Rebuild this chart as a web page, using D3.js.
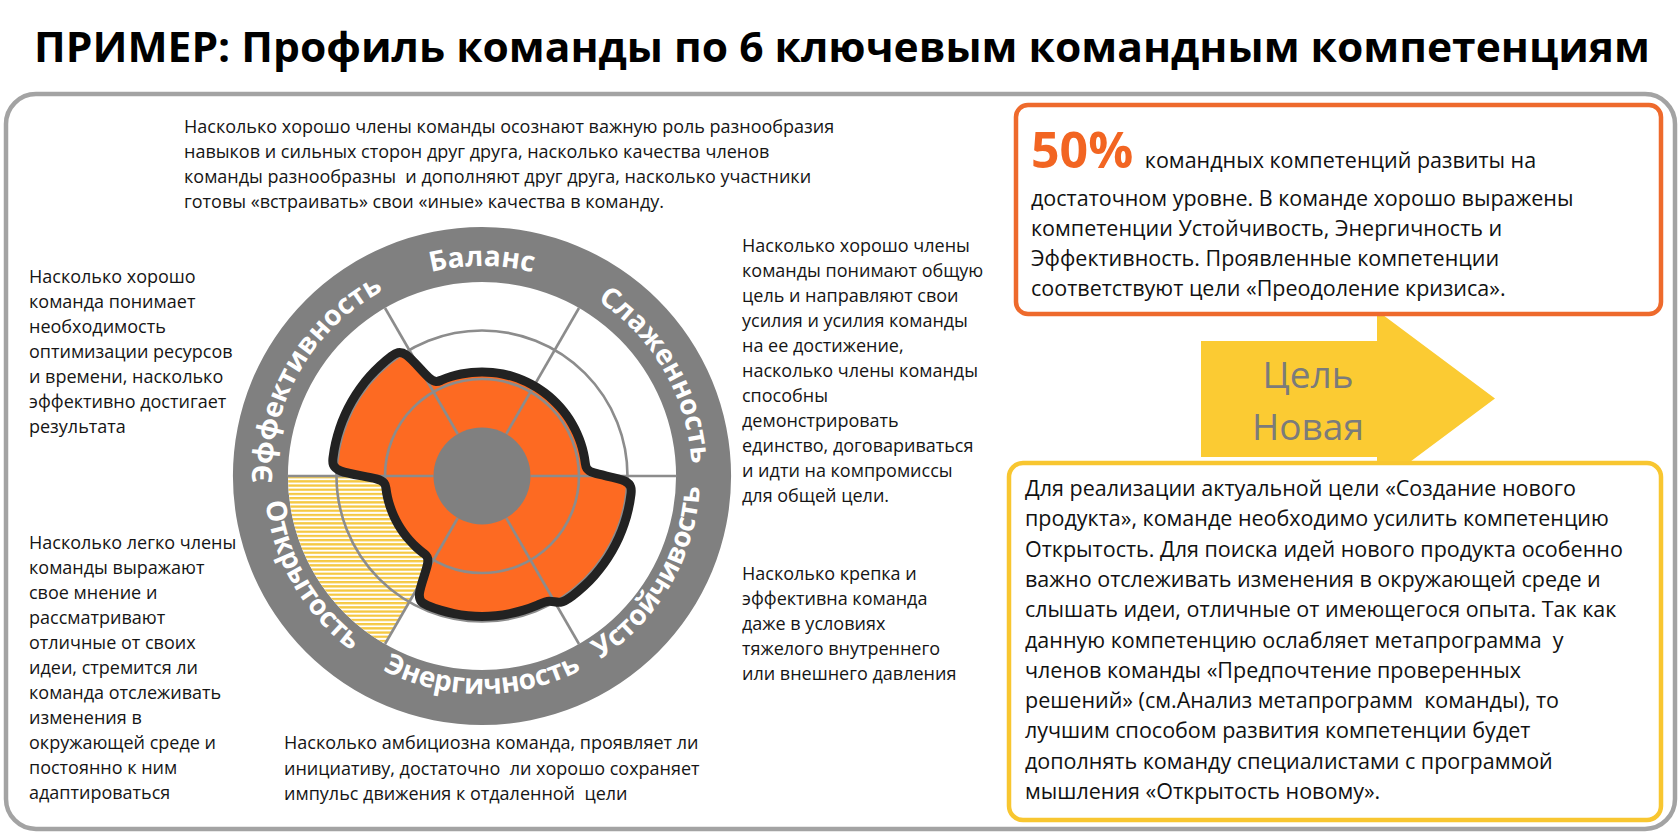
<!DOCTYPE html>
<html><head><meta charset="utf-8">
<script src="https://cdn.jsdelivr.net/npm/d3@7"></script>
<style>body{margin:0;background:#fff;} svg{display:block;}</style>
</head><body><svg id="c" width="1680" height="834"></svg>
<script>
// ---------------- DATA ----------------
const titleText = "ПРИМЕР: Профиль команды по 6 ключевым командным компетенциям";
const competencies = ["Баланс", "Слаженность", "Устойчивость", "Энергичность", "Открытость", "Эффективность"];
const levels = [2.15, 2.15, 3.1, 2.9, 2.0, 3.1];          // team profile (scale 0..4)
const targetLevels = [null, null, null, null, 4, null];   // competence to strengthen
const gridLevels = [2, 3];
const coreLevel = 1;
const maxLevel = 4;

const descTop = ["Насколько хорошо члены команды осознают важную роль разнообразия",
  "навыков и сильных сторон друг друга, насколько качества членов",
  "команды разнообразны  и дополняют друг друга, насколько участники",
  "готовы «встраивать» свои «иные» качества в команду."];
const descLeftTop = ["Насколько хорошо", "команда понимает", "необходимость", "оптимизации ресурсов",
  "и времени, насколько", "эффективно достигает", "результата"];
const descLeftBottom = ["Насколько легко члены", "команды выражают", "свое мнение и", "рассматривают",
  "отличные от своих", "идеи, стремится ли", "команда отслеживать", "изменения в",
  "окружающей среде и", "постоянно к ним", "адаптироваться"];
const descRightTop = ["Насколько хорошо члены", "команды понимают общую", "цель и направляют свои",
  "усилия и усилия команды", "на ее достижение,", "насколько члены команды", "способны",
  "демонстрировать", "единство, договариваться", "и идти на компромиссы", "для общей цели."];
const descRightBottom = ["Насколько крепка и", "эффективна команда", "даже в условиях",
  "тяжелого внутреннего", "или внешнего давления"];
const descBottom = ["Насколько амбициозна команда, проявляет ли",
  "инициативу, достаточно  ли хорошо сохраняет",
  "импульс движения к отдаленной  цели"];

const summaryPct = "50%";
const summaryLines = [" командных компетенций развиты на",
  "достаточном уровне. В команде хорошо выражены",
  "компетенции Устойчивость, Энергичность и",
  "Эффективность. Проявленные компетенции",
  "соответствуют цели «Преодоление кризиса»."];
const goalLines = ["Цель", "Новая"];
const adviceLines = ["Для реализации актуальной цели «Создание нового",
  "продукта», команде необходимо усилить компетенцию",
  "Открытость. Для поиска идей нового продукта особенно",
  "важно отслеживать изменения в окружающей среде и",
  "слышать идеи, отличные от имеющегося опыта. Так как",
  "данную компетенцию ослабляет метапрограмма  у",
  "членов команды «Предпочтение проверенных",
  "решений» (см.Анализ метапрограмм  команды), то",
  "лучшим способом развития компетенции будет",
  "дополнять команду специалистами с программой",
  "мышления «Открытость новому»."];

// ---------------- DRAW ----------------
const svg = d3.select("#c");
const FONT = "'Open Sans', 'Noto Sans', sans-serif";
const defs = svg.append("defs");
const pat = defs.append("pattern").attr("id", "hatch").attr("patternUnits", "userSpaceOnUse")
  .attr("width", 8).attr("height", 4.2);
pat.append("rect").attr("width", 8).attr("height", 4.2).attr("fill", "#fff");
pat.append("rect").attr("width", 8).attr("height", 2.3).attr("fill", "#F5C842");

// title
svg.append("text").attr("x", 34).attr("y", 62).attr("font-family", FONT).attr("font-weight", 700)
  .attr("font-size", 42).attr("fill", "#000").attr("textLength", 1616)
  .attr("lengthAdjust", "spacingAndGlyphs").text(titleText);

// frame
svg.append("rect").attr("x", 6).attr("y", 94).attr("width", 1669).attr("height", 735).attr("rx", 30)
  .attr("fill", "#fff").attr("stroke", "#a3a3a3").attr("stroke-width", 4.5);

// wheel
const cx = 482, cy = 476, ringOuter = 249;
const r = d3.scaleLinear().domain([0, maxLevel]).range([0, 194]);
const ang = d3.scaleLinear().domain([0, competencies.length]).range([0, 2 * Math.PI]);
const g = svg.append("g").attr("transform", `translate(${cx},${cy})`);
const arc = d3.arc();

g.append("circle").attr("r", r(maxLevel)).attr("fill", "#fff");
g.append("path").attr("fill", "#808080")
  .attr("d", arc({innerRadius: r(maxLevel), outerRadius: ringOuter, startAngle: 0, endAngle: 2 * Math.PI}));

// target hatch
competencies.forEach((c, i) => {
  if (targetLevels[i] == null) return;
  g.append("path").attr("fill", "url(#hatch)")
    .attr("d", arc({innerRadius: 0, outerRadius: r(targetLevels[i]), startAngle: ang(i - 0.5), endAngle: ang(i + 0.5)}));
});

// profile shape
const inset = 1.3 * Math.PI / 180, N = 10;
const pts = [];
competencies.forEach((c, i) => {
  const a0 = ang(i - 0.5) + inset, a1 = ang(i + 0.5) - inset;
  for (let k = 0; k <= N; k++) pts.push([a0 + (a1 - a0) * k / N, r(levels[i])]);
});
const profile = d3.lineRadial().angle(d => d[0]).radius(d => d[1]).curve(d3.curveBasisClosed);
g.append("path").attr("d", profile(pts)).attr("fill", "#FD6A22");

// grid
gridLevels.forEach(l => g.append("circle").attr("r", r(l)).attr("fill", "none")
  .attr("stroke", "#8c8c8c").attr("stroke-width", 2.6));
competencies.forEach((c, i) => {
  const a = ang(i + 0.5);
  g.append("line").attr("x1", r(coreLevel) * Math.sin(a)).attr("y1", -r(coreLevel) * Math.cos(a))
    .attr("x2", r(maxLevel) * Math.sin(a)).attr("y2", -r(maxLevel) * Math.cos(a))
    .attr("stroke", "#8c8c8c").attr("stroke-width", 2.6);
});
g.append("path").attr("d", profile(pts)).attr("fill", "none").attr("stroke", "#222")
  .attr("stroke-width", 9).attr("stroke-linejoin", "round");
g.append("circle").attr("r", r(coreLevel)).attr("fill", "#808080");

// ring labels
const half = 48 * Math.PI / 180;
competencies.forEach((c, i) => {
  const m = ang(i);
  const bottom = Math.cos(m) < -0.01;
  const R = bottom ? 218 : 210;
  const a0 = bottom ? m + half : m - half, a1 = bottom ? m - half : m + half;
  const p = a => [R * Math.sin(a), -R * Math.cos(a)];
  g.append("path").attr("id", "lbl" + i).attr("fill", "none")
    .attr("d", `M${p(a0)}A${R},${R} 0 0 ${bottom ? 0 : 1} ${p(a1)}`);
  g.append("text").attr("font-family", FONT).attr("font-weight", 700).attr("font-size", 28)
    .attr("fill", "#fff").append("textPath").attr("href", "#lbl" + i)
    .attr("startOffset", "50%").attr("text-anchor", "middle").text(c);
});

// description blocks
function block(lines, x, y0, lh, fs) {
  const t = svg.append("text").attr("font-family", FONT).attr("font-size", fs).attr("fill", "#151515")
    .attr("xml:space", "preserve").style("white-space", "pre");
  lines.forEach((s, k) => t.append("tspan").attr("x", x).attr("y", y0 + k * lh).text(s));
  return t;
}
block(descTop, 184, 133, 25, 18);
block(descLeftTop, 29, 283, 25, 18);
block(descLeftBottom, 29, 549, 25, 18);
block(descRightTop, 742, 252, 25, 18);
block(descRightBottom, 742, 580, 25, 18);
block(descBottom, 284, 749, 25.5, 18);

// arrow
const ax0 = 1201, ax1 = 1377, ay0 = 341, ay1 = 457, tipX = 1495, tipY = 398.5, headH = 88;
svg.append("path").attr("fill", "#FBCB33")
  .attr("d", `M${ax0},${ay0}H${ax1}V${tipY - headH}L${tipX},${tipY}L${ax1},${tipY + headH}V${ay1}H${ax0}Z`);
goalLines.forEach((s, k) => svg.append("text").attr("x", 1308).attr("y", 388 + k * 52)
  .attr("text-anchor", "middle").attr("font-family", FONT).attr("font-size", 37)
  .attr("fill", "#7b7b7b").text(s));

// summary box
svg.append("rect").attr("x", 1016).attr("y", 105).attr("width", 645).attr("height", 209).attr("rx", 12)
  .attr("fill", "#fff").attr("stroke", "#EE6A2C").attr("stroke-width", 4.5);
const st = svg.append("text").attr("font-family", FONT).attr("font-size", 21.5).attr("fill", "#111")
  .attr("xml:space", "preserve").style("white-space", "pre");
st.append("tspan").attr("x", 1031).attr("y", 168).attr("font-size", 50).attr("font-weight", 700)
  .attr("fill", "#F26522").text(summaryPct);
st.append("tspan").attr("dx", 6).text(summaryLines[0]);
summaryLines.slice(1).forEach((s, k) => st.append("tspan").attr("x", 1031).attr("y", 206 + k * 30).text(s));

// advice box
svg.append("rect").attr("x", 1009).attr("y", 463).attr("width", 652).attr("height", 357).attr("rx", 14)
  .attr("fill", "#fff").attr("stroke", "#F8C630").attr("stroke-width", 4.5);
block(adviceLines, 1025, 496, 30.3, 21.5).attr("fill", "#111");
</script></body></html>
